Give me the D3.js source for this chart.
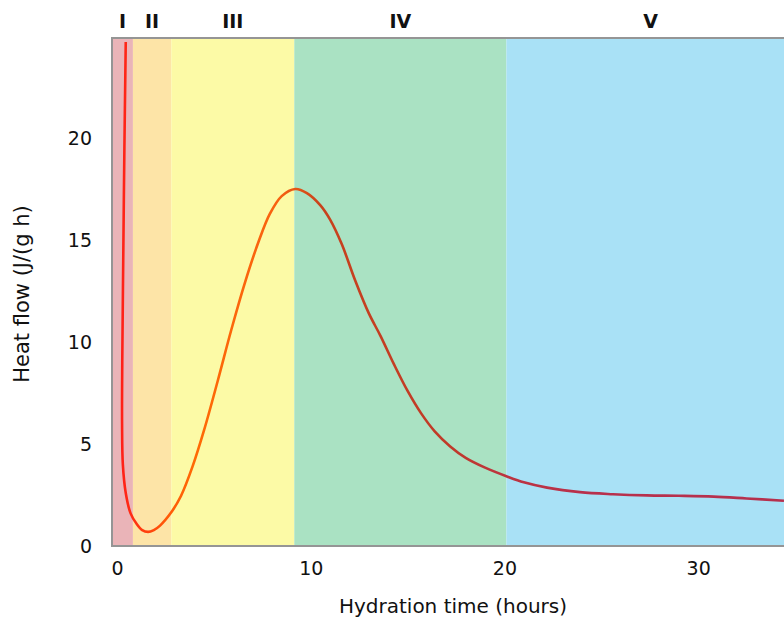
<!DOCTYPE html>
<html><head><meta charset="utf-8">
<script src="https://cdn.jsdelivr.net/npm/d3@7"></script>
<style>body{margin:0;background:#fff}svg{display:block}</style>
</head><body>
<svg id="c" width="784" height="618"></svg>
<script>
const timeValues = [0.45,0.38,0.32,0.27,0.26,0.30,0.45,0.70,1.0,1.3,1.6,1.9,2.22,2.8,3.3,3.9,4.5,5.2,5.9,6.6,7.3,7.9,8.5,9.2,9.8,10.5,11.0,11.6,12.3,13.0,13.6,14.3,15.0,15.7,16.4,17.2,18.0,19.0,20.1,21.0,22.2,23.9,25.6,27.35,29.0,30.8,32.5,34.43];
const heatValues = [24.7,19.5,14,9,6,4,2.6,1.6,1.1,0.78,0.69,0.78,1.0,1.65,2.45,3.9,5.7,8.1,10.6,12.9,14.9,16.3,17.15,17.5,17.3,16.7,16.0,14.8,13.0,11.4,10.3,8.9,7.6,6.5,5.62,4.88,4.32,3.84,3.42,3.12,2.86,2.64,2.54,2.48,2.46,2.42,2.33,2.22];
const phaseNames = ["I","II","III","IV","V"];
const phaseStart = [-0.26,0.82,2.8,9.15,20.1];
const phaseEnd = [0.82,2.8,9.15,20.1,35];
const phaseColors = ["#eab4b8","#fde4a7","#fcfaa6","#aae2c3","#a9e1f6"];
const xTicks = [0,10,20,30];
const yTicks = [0,5,10,15,20];

const svg = d3.select("#c");
const x = d3.scaleLinear().domain([-0.26,35]).range([112,795]);
const y = d3.scaleLinear().domain([0,24.9]).range([546,38]);
const font = "'DejaVu Sans', Verdana, sans-serif";

const phases = phaseNames.map((n,i)=>({n, s:phaseStart[i], e:phaseEnd[i], c:phaseColors[i]}));
svg.append("g").selectAll("rect").data(phases).join("rect")
  .attr("x",d=>x(d.s)).attr("width",d=>x(d.e)-x(d.s))
  .attr("y",y(24.9)).attr("height",y(0)-y(24.9)).attr("fill",d=>d.c);

svg.append("g").selectAll("text").data(phases).join("text")
  .attr("x",d=>(x(d.s)+Math.min(x(d.e),795))/2).attr("y",28)
  .attr("text-anchor","middle").attr("font-family",font).attr("font-weight","bold")
  .attr("font-size",19).attr("fill","#111").text(d=>d.n);

// gradient along time
const defs = svg.append("defs");
const grad = defs.append("linearGradient").attr("id","g").attr("gradientUnits","userSpaceOnUse")
  .attr("x1",x(0)).attr("x2",x(35)).attr("y1",0).attr("y2",0);
const stops = [[0,"#ff1a1a"],[1.2,"#ff3a10"],[2.6,"#ff5a08"],[4,"#ff6a05"],[8.3,"#f86210"],[10.5,"#c8421c"],[17,"#c03a28"],[20,"#bc3440"],[24,"#b8304c"],[35,"#b5304e"]];
grad.selectAll("stop").data(stops).join("stop")
  .attr("offset",d=>d[0]/35).attr("stop-color",d=>d[1]);

const pts = timeValues.map((t,i)=>[t,heatValues[i]]);
const line = d3.line().x(d=>x(d[0])).y(d=>y(d[1])).curve(d3.curveCatmullRom.alpha(0.5));
svg.append("path").attr("d",line(pts)).attr("fill","none")
  .attr("stroke","url(#g)").attr("stroke-width",2.6).attr("stroke-linejoin","round");

// frame
svg.append("path").attr("d",`M795,${y(24.9)}H${x(-0.26)}V${y(0)}H795`)
  .attr("fill","none").attr("stroke","#959595").attr("stroke-width",2);

// axes
const xAxis = svg.append("g").attr("transform",`translate(0,${y(0)})`)
  .call(d3.axisBottom(x).tickValues(xTicks).tickSize(0).tickPadding(16).tickFormat(d3.format("d")));
xAxis.select(".domain").remove();
xAxis.selectAll("text").attr("font-family",font).attr("font-size",19).attr("fill","#111");

const yAxis = svg.append("g").attr("transform",`translate(${x(-0.26)},0)`)
  .call(d3.axisLeft(y).tickValues(yTicks).tickSize(0).tickPadding(20).tickFormat(d3.format("d")));
yAxis.select(".domain").remove();
yAxis.selectAll("text").attr("font-family",font).attr("font-size",19).attr("fill","#111");

svg.append("text").attr("x",453).attr("y",613).attr("text-anchor","middle")
  .attr("font-family",font).attr("font-size",20).attr("fill","#111").text("Hydration time (hours)");
svg.append("text").attr("transform","translate(29,294) rotate(-90)").attr("text-anchor","middle")
  .attr("font-family",font).attr("font-size",21).attr("fill","#111").text("Heat flow (J/(g h)");
</script>
</body></html>
